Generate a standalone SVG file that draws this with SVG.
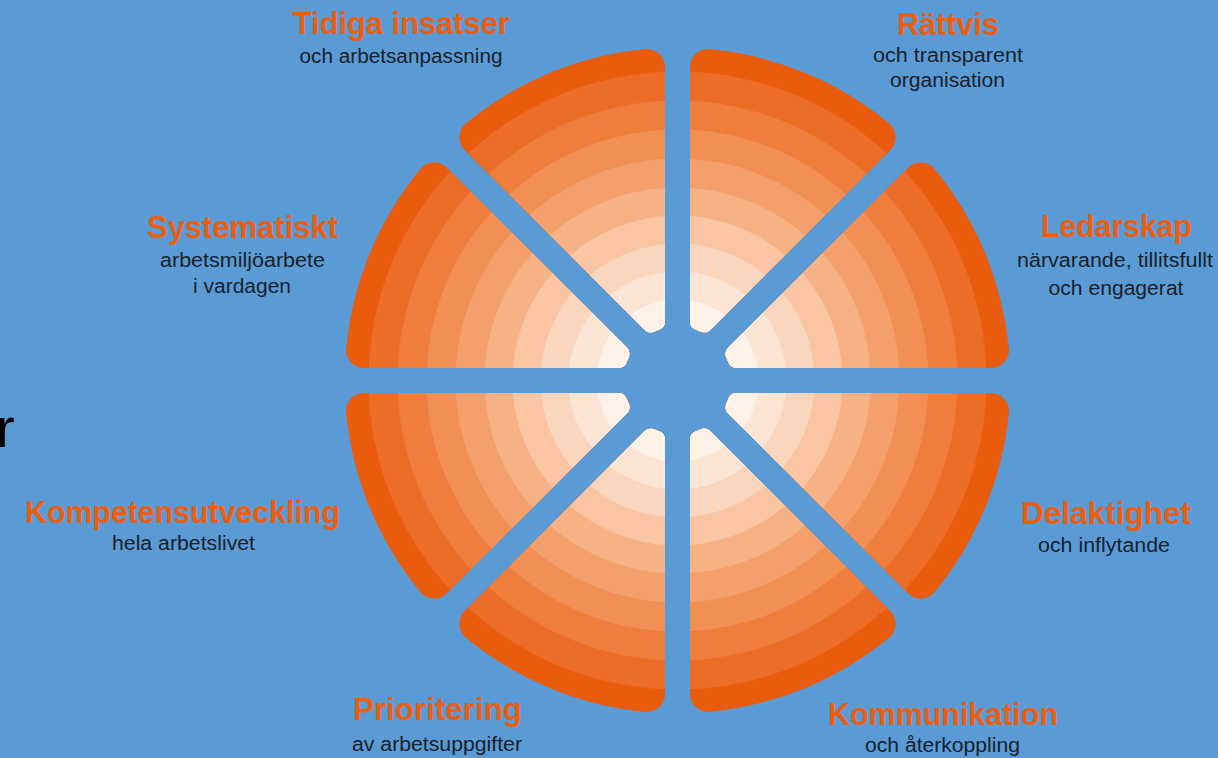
<svg xmlns="http://www.w3.org/2000/svg" xmlns:xlink="http://www.w3.org/1999/xlink" width="1218" height="758" viewBox="0 0 1218 758">
<style>
.t{font-family:"Liberation Sans","Noto Sans",Arial,sans-serif;font-weight:bold;font-size:31px;fill:#EA5E12;text-anchor:middle}
.s{font-family:"Liberation Sans","Noto Sans",Arial,sans-serif;font-size:20px;fill:#16212C;text-anchor:middle}
</style>
<defs>
<path id="wedge" d="M59.22 12.5 L313.52 12.5 A18 18 0 0 1 331.43 32.24 A333 333 0 0 1 257.16 211.56 A18 18 0 0 1 230.53 212.86 L50.71 33.04 A9 9 0 0 1 48.93 22.86 A54 54 0 0 0 50.76 18.43 A9 9 0 0 1 59.22 12.5 Z"/>
<clipPath id="wc"><use href="#wedge" xlink:href="#wedge"/></clipPath>
<g id="rings">
<circle r="340" fill="#E95C0E"/>
<circle r="309" fill="#EC6D27"/>
<circle r="280" fill="#EF7E3D"/>
<circle r="251" fill="#F18F55"/>
<circle r="222" fill="#F4A06C"/>
<circle r="193" fill="#F6B285"/>
<circle r="165" fill="#F9C5A3"/>
<circle r="137" fill="#FBD6BE"/>
<circle r="109" fill="#FDE5D6"/>
<circle r="81" fill="#FEF2E9"/>
</g>
</defs>
<rect width="1218" height="758" fill="#5B9BD5"/>
<g id="connectors"/>
<g id="node-delaktighet">
<g transform="translate(677.5 380.5) rotate(0)"><use href="#rings" xlink:href="#rings" clip-path="url(#wc)"/></g>
<text class="t" x="1106" y="524" textLength="170" lengthAdjust="spacingAndGlyphs">Delaktighet</text>
<text class="s" x="1104" y="552" textLength="132" lengthAdjust="spacingAndGlyphs">och inflytande</text>
</g>
<g id="node-kommunikation">
<g transform="translate(677.5 380.5) rotate(45)"><use href="#rings" xlink:href="#rings" clip-path="url(#wc)"/></g>
<text class="t" x="943" y="725" textLength="230" lengthAdjust="spacingAndGlyphs">Kommunikation</text>
<text class="s" x="942.5" y="752" textLength="155" lengthAdjust="spacingAndGlyphs">och återkoppling</text>
</g>
<g id="node-prioritering">
<g transform="translate(677.5 380.5) rotate(90)"><use href="#rings" xlink:href="#rings" clip-path="url(#wc)"/></g>
<text class="t" x="437.5" y="720" textLength="169" lengthAdjust="spacingAndGlyphs">Prioritering</text>
<text class="s" x="437" y="751" textLength="170" lengthAdjust="spacingAndGlyphs">av arbetsuppgifter</text>
</g>
<g id="node-kompetensutveckling">
<g transform="translate(677.5 380.5) rotate(135)"><use href="#rings" xlink:href="#rings" clip-path="url(#wc)"/></g>
<text class="t" x="182.5" y="523" textLength="315" lengthAdjust="spacingAndGlyphs">Kompetensutveckling</text>
<text class="s" x="183.5" y="550" textLength="143" lengthAdjust="spacingAndGlyphs">hela arbetslivet</text>
</g>
<g id="node-systematiskt">
<g transform="translate(677.5 380.5) rotate(180)"><use href="#rings" xlink:href="#rings" clip-path="url(#wc)"/></g>
<text class="t" x="242.5" y="238" textLength="191" lengthAdjust="spacingAndGlyphs">Systematiskt</text>
<text class="s" x="242.5" y="267" textLength="165" lengthAdjust="spacingAndGlyphs">arbetsmiljöarbete</text>
<text class="s" x="242" y="293" textLength="98" lengthAdjust="spacingAndGlyphs">i vardagen</text>
</g>
<g id="node-tidiga">
<g transform="translate(677.5 380.5) rotate(225)"><use href="#rings" xlink:href="#rings" clip-path="url(#wc)"/></g>
<text class="t" x="401.3" y="33.5" textLength="217" lengthAdjust="spacingAndGlyphs">Tidiga insatser</text>
<text class="s" x="401" y="62.5" textLength="203" lengthAdjust="spacingAndGlyphs">och arbetsanpassning</text>
</g>
<g id="node-rattvis">
<g transform="translate(677.5 380.5) rotate(270)"><use href="#rings" xlink:href="#rings" clip-path="url(#wc)"/></g>
<text class="t" x="948" y="35" textLength="102" lengthAdjust="spacingAndGlyphs">Rättvis</text>
<text class="s" x="948" y="62" textLength="150" lengthAdjust="spacingAndGlyphs">och transparent</text>
<text class="s" x="947.5" y="87" textLength="115" lengthAdjust="spacingAndGlyphs">organisation</text>
</g>
<g id="node-ledarskap">
<g transform="translate(677.5 380.5) rotate(315)"><use href="#rings" xlink:href="#rings" clip-path="url(#wc)"/></g>
<text class="t" x="1116.5" y="237" textLength="151" lengthAdjust="spacingAndGlyphs">Ledarskap</text>
<text class="s" x="1115" y="267" textLength="196" lengthAdjust="spacingAndGlyphs">närvarande, tillitsfullt</text>
<text class="s" x="1116" y="295" textLength="135" lengthAdjust="spacingAndGlyphs">och engagerat</text>
</g>
<text x="-4" y="447" font-family="Liberation Sans, Arial, sans-serif" font-size="56" fill="#000000">r</text>
</svg>
